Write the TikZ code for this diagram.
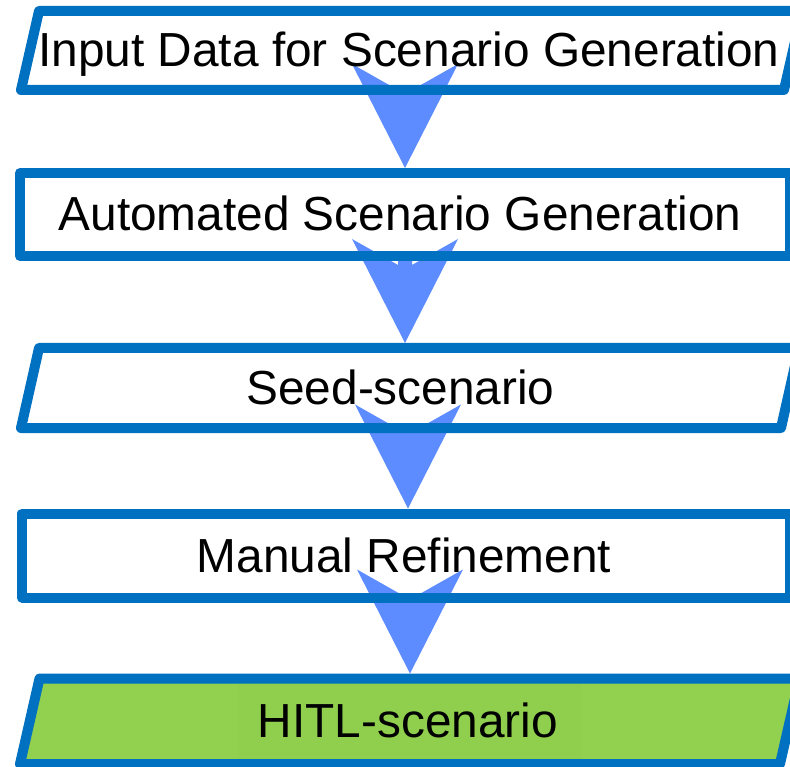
\documentclass[tikz,border=0pt]{standalone}
\usepackage{fontspec}
\setmainfont{Liberation Sans}
\usetikzlibrary{calc}
\pgfdeclarelayer{bg}
\pgfdeclarelayer{fg}
\pgfsetlayers{bg,main,fg}
\definecolor{edgeblue}{HTML}{0070C0}
\definecolor{flowblue}{HTML}{5C8CFF}
\definecolor{leafgreen}{HTML}{92D050}
\definecolor{patchgreen}{HTML}{90CF4D}

% big notched arrow from the bottom of #1 to the top of #2, shifted by #3
\newcommand\flowarrow[3]{%
  \coordinate (tip) at ([xshift=#3]#2.north);
  \coordinate (tail) at (#1.south -| tip);
  \fill[flowfill] ([xshift=-7pt]tail) -- ($(tip)+(-7,-78)$) -- ($(tip)+(-53,-104)$)
    -- (tip) -- ($(tip)+(53,-104)$) -- ($(tip)+(7,-78)$) -- ([xshift=7pt]tail) -- cycle;}

\begin{document}
\begin{tikzpicture}[x=1pt,y=-1pt,
  outline/.style={draw=edgeblue, line width=10pt, line join=round},
  stepnode/.style={inner sep=0pt, outer sep=5pt, text height=33pt, text depth=0pt,
    font=\fontsize{47.8}{57}\selectfont},
  flowfill/.style={fill=flowblue}]
\useasboundingbox (0,0) rectangle (790,767);
\clip (0,0) rectangle (790,767);

\begin{pgfonlayer}{bg}
  \fill[white] (0,0) rectangle (790,767);
  \fill[leafgreen] (39.5,678.5) -- (799.5,678.5) -- (780,764) -- (20,764) -- cycle;
  \fill[patchgreen] (238,683) rectangle (582,760);
\end{pgfonlayer}

\begin{pgfonlayer}{fg}
  % outlines
  \draw[outline] (39,11) -- (802,11) -- (784,90) -- (21,90) -- cycle;
  \draw[outline] (20,173) rectangle (790,256);
  \draw[outline] (39,348) -- (799,348) -- (781,428) -- (21,428) -- cycle;
  \draw[outline] (22,513.5) rectangle (790,597.5);
  \draw[outline] (39.5,678.5) -- (799.5,678.5) -- (780,764) -- (20,764) -- cycle;
  % steps
  \node[stepnode, minimum height=79pt]   (b1) at (409,50.5)   {Input Data for Scenario Generation};
  \node[stepnode, minimum height=83pt]   (b2) at (400,214.5)  {Automated Scenario Generation};
  \node[stepnode, minimum height=80pt]   (b3) at (400.5,388)  {Seed-scenario};
  \node[stepnode, minimum height=84pt]   (b4) at (404,555.5)  {Manual Refinement};
  \node[stepnode, minimum height=85.5pt] (b5) at (408,721.25) {HITL-scenario};
\end{pgfonlayer}

% connectors
\flowarrow{b1}{b2}{5pt}
\flowarrow{b2}{b3}{4.5pt}
\flowarrow{b3}{b4}{4pt}
\flowarrow{b4}{b5}{2pt}
\end{tikzpicture}
\end{document}
